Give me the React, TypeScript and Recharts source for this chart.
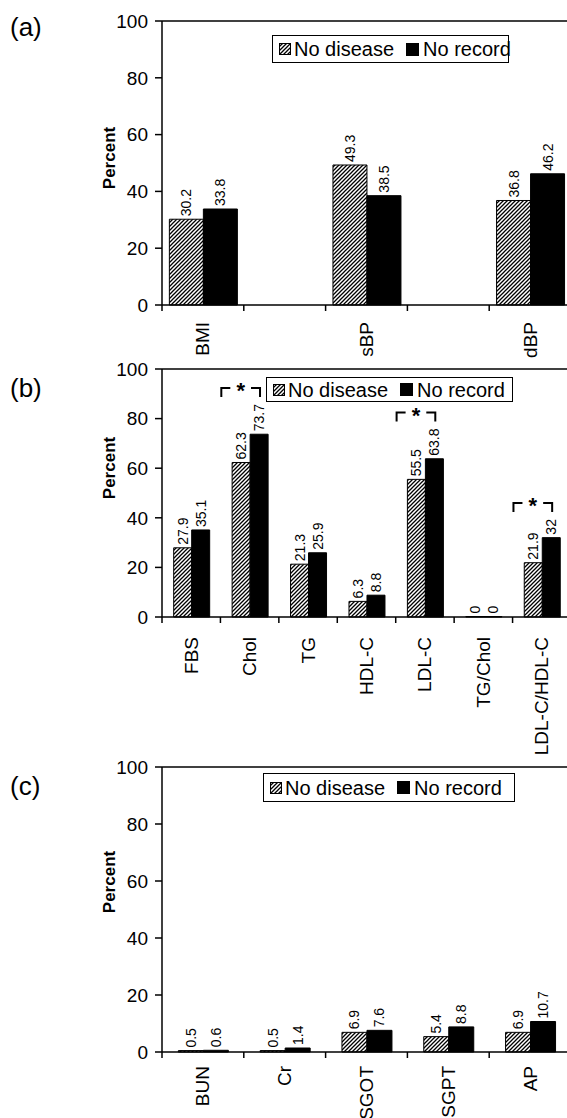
import React from 'react';
import { BarChart, Bar, XAxis, YAxis, LabelList, ReferenceLine, Legend } from 'recharts';

const FONT = '"Liberation Sans", Arial, Helvetica, sans-serif';

// ---------- data ----------
const seriesNames = ['No disease', 'No record'];
const yTicks = [0, 20, 40, 60, 80, 100];

const catsA = ['BMI', ' ', 'sBP', '  ', 'dBP'];
const noDiseaseA = [30.2, null, 49.3, null, 36.8];
const noRecordA = [33.8, null, 38.5, null, 46.2];

const catsB = ['FBS', 'Chol', 'TG', 'HDL-C', 'LDL-C', 'TG/Chol', 'LDL-C/HDL-C'];
const noDiseaseB = [27.9, 62.3, 21.3, 6.3, 55.5, 0, 21.9];
const noRecordB = [35.1, 73.7, 25.9, 8.8, 63.8, 0, 32];
const sigB = [false, true, false, false, true, false, true];

const catsC = ['BUN', 'Cr', 'SGOT', 'SGPT', 'AP'];
const noDiseaseC = [0.5, 0.5, 6.9, 5.4, 6.9];
const noRecordC = [0.6, 1.4, 7.6, 8.8, 10.7];

// ---------- layout ----------
const CHART_W = 585;
const MARGIN_L = 102;
const YAXIS_W = 60;
const MARGIN_R = 14;
const PLOT_W = CHART_W - MARGIN_L - YAXIS_W - MARGIN_R;

const HatchDef = ({ id }: { id: string }) => (
  <pattern id={id} patternUnits="userSpaceOnUse" width="4" height="4">
    <rect width="4" height="4" fill="#fff" />
    <path d="M-1,1 l2,-2 M0,4 l4,-4 M3,5 l2,-2" stroke="#000" strokeWidth="1.3" />
  </pattern>
);

const XTick = (props: any) => {
  const { x, y, payload, band, offset } = props;
  const label = String(payload.value).trim();
  return (
    <g>
      <line x1={x - band / 2} x2={x - band / 2} y1={y} y2={y + 6} stroke="#000" strokeWidth={1.5} />
      {label && (
        <text
          transform={`translate(${x},${y + offset}) rotate(-90)`}
          textAnchor="end"
          dominantBaseline="central"
          fontFamily={FONT}
          fontSize={19}
          fill="#000"
        >
          {label}
        </text>
      )}
    </g>
  );
};

const estW = (s: string, fs: number) => {
  let w = 0;
  for (const ch of s) w += ch === '.' ? 0.278 : 0.556;
  return w * fs;
};

// label value is "<number>" or "<number>|*" when the pair is significant
const ValueLabel = (props: any) => {
  const { value } = props;
  if (value === null || value === undefined || value === '') return null;
  const raw = String(value);
  const parts = raw.split('|');
  const txt = parts[0];
  if (txt === '' || txt === 'null') return null;
  const isSig = parts[1] === '*';
  const vb = props.viewBox || props;
  const x = Number(vb.x);
  const y = Number(vb.y);
  const w = Number(vb.width);
  const h = Number(vb.height);
  const top = h >= 0 ? y : y + h;
  const cx = x + w / 2;
  const fs = 14;
  const ly = top - 3;
  const out: any[] = [
    <text
      key="t"
      transform={`translate(${cx},${ly}) rotate(-90)`}
      textAnchor="start"
      dominantBaseline="central"
      fontFamily={FONT}
      fontSize={fs}
      fill="#000"
    >
      {txt}
    </text>,
  ];
  if (isSig) {
    const hy = ly - estW(txt, fs) - 16;
    const l = x - 1.6 * w;
    const r = x + 0.55 * w;
    const segW = 9;
    out.push(
      <g key="b" stroke="#000" strokeWidth={2} fill="none">
        <polyline points={`${l},${hy + 9} ${l},${hy} ${l + segW},${hy}`} />
        <polyline points={`${r - segW},${hy} ${r},${hy} ${r},${hy + 9}`} />
      </g>,
      <text key="s" x={(l + r) / 2} y={hy + 10} textAnchor="middle" fontFamily={FONT} fontSize={22} fontWeight="bold" fill="#000">
        *
      </text>
    );
  }
  return <g>{out}</g>;
};

const LegendBox = (props: any) => {
  const { payload, fs, h, pid } = props;
  const items = payload || [];
  return (
    <div
      style={{
        border: '1px solid #000',
        background: '#fff',
        height: h,
        boxSizing: 'border-box',
        display: 'flex',
        alignItems: 'center',
        fontFamily: FONT,
        fontSize: fs,
        whiteSpace: 'nowrap',
        paddingLeft: 6,
        lineHeight: 1,
        color: '#000',
      }}
    >
      {items.map((it: any, i: number) => (
        <span key={i} style={{ display: 'flex', alignItems: 'center', marginLeft: i === 0 ? 0 : 12 }}>
          {i === 0 ? (
            <svg width={12} height={12} style={{ display: 'block' }}>
              <defs>
                <HatchDef id={`leg-${pid}`} />
              </defs>
              <rect x={0.5} y={0.5} width={11} height={11} fill={`url(#leg-${pid})`} stroke="#000" strokeWidth={1} />
            </svg>
          ) : (
            <svg width={13} height={13} style={{ display: 'block' }}>
              <rect x={0} y={0} width={13} height={13} fill="#000" />
            </svg>
          )}
          <span style={{ marginLeft: i === 0 ? 3 : 4 }}>{it.value}</span>
        </span>
      ))}
    </div>
  );
};

type PanelProps = {
  id: string;
  top: number;
  height: number;
  marginTop: number;
  plotH: number;
  cats: string[];
  a: (number | null)[];
  b: (number | null)[];
  sig?: boolean[];
  gap: string;
  legend: { x: number; y: number; w: number; h: number };
  labelOffset: number;
};

const Panel = (p: PanelProps) => {
  const data = p.cats.map((c, i) => ({
    name: c,
    nd: p.a[i],
    nr: p.b[i],
    ndLabel: p.a[i] === null ? '' : String(p.a[i]),
    nrLabel: p.b[i] === null ? '' : String(p.b[i]) + (p.sig && p.sig[i] ? '|*' : ''),
  }));
  const band = PLOT_W / p.cats.length;
  const hid = `hatch-${p.id}`;
  const axisH = p.height - p.marginTop - p.plotH;
  return (
    <div style={{ position: 'absolute', left: 0, top: p.top, width: CHART_W, height: p.height }}>
      <BarChart
        width={CHART_W}
        height={p.height}
        data={data}
        margin={{ top: p.marginTop, right: MARGIN_R, bottom: 0, left: MARGIN_L }}
        barCategoryGap={p.gap}
        barGap={0}
      >
        <defs>
          <HatchDef id={hid} />
        </defs>
        <XAxis
          dataKey="name"
          height={axisH}
          interval={0}
          axisLine={{ stroke: '#000', strokeWidth: 1.5 }}
          tickLine={false}
          tickSize={0}
          tickMargin={0}
          tick={<XTick band={band} offset={p.labelOffset} />}
        />
        <YAxis
          width={YAXIS_W}
          domain={[0, 100]}
          ticks={yTicks}
          interval={0}
          axisLine={{ stroke: '#000', strokeWidth: 1.5 }}
          tickLine={{ stroke: '#000', strokeWidth: 1.5 }}
          tickSize={7}
          tickMargin={7}
          tick={{ fontFamily: FONT, fontSize: 19, fill: '#000' }}
        />
        <ReferenceLine y={100} stroke="#000" strokeWidth={1.5} />
        <Bar dataKey="nd" name={seriesNames[0]} fill={`url(#${hid})`} stroke="#000" strokeWidth={1} minPointSize={0.5} isAnimationActive={false}>
          <LabelList dataKey="ndLabel" content={<ValueLabel />} />
        </Bar>
        <Bar dataKey="nr" name={seriesNames[1]} fill="#000" stroke="#000" strokeWidth={1} minPointSize={0.5} isAnimationActive={false}>
          <LabelList dataKey="nrLabel" content={<ValueLabel />} />
        </Bar>
        <Legend
          layout="horizontal"
          verticalAlign="middle"
          align="center"
          width={p.legend.w}
          height={p.legend.h}
          wrapperStyle={{ left: p.legend.x, top: p.legend.y, right: 'auto', bottom: 'auto' }}
          content={<LegendBox fs={20} h={p.legend.h} pid={p.id} />}
        />
      </BarChart>
    </div>
  );
};

const tags = ['(a)', '(b)', '(c)'];

export default function App() {
  return (
    <div style={{ position: 'fixed', left: 0, top: 0, width: 567, height: 1118, overflow: 'hidden', background: '#fff' }}>
      <Panel
        id="a"
        top={0}
        height={380}
        marginTop={21}
        plotH={284}
        cats={catsA}
        a={noDiseaseA}
        b={noRecordA}
        gap="9%"
        legend={{ x: 272, y: 35, w: 237, h: 28 }}
        labelOffset={17}
      />
      <Panel
        id="b"
        top={340}
        height={440}
        marginTop={29}
        plotH={248}
        cats={catsB}
        a={noDiseaseB}
        b={noRecordB}
        sig={sigB}
        gap="20%"
        legend={{ x: 266, y: 37, w: 247, h: 25 }}
        labelOffset={20}
      />
      <Panel
        id="c"
        top={740}
        height={378}
        marginTop={27}
        plotH={285}
        cats={catsC}
        a={noDiseaseC}
        b={noRecordC}
        gap="20%"
        legend={{ x: 263, y: 33, w: 252, h: 29 }}
        labelOffset={14}
      />
      <svg width={567} height={1118} style={{ position: 'absolute', left: 0, top: 0, pointerEvents: 'none' }}>
        <text x={10} y={36} fontFamily={FONT} fontSize={26} fill="#000">{tags[0]}</text>
        <text x={10} y={397} fontFamily={FONT} fontSize={26} fill="#000">{tags[1]}</text>
        <text x={10} y={795} fontFamily={FONT} fontSize={26} fill="#000">{tags[2]}</text>
        {[158, 468, 882].map((cy, i) => (
          <text
            key={i}
            transform={`translate(109,${cy}) rotate(-90)`}
            textAnchor="middle"
            dominantBaseline="central"
            fontFamily={FONT}
            fontSize={17}
            fontWeight="bold"
            fill="#000"
          >
            Percent
          </text>
        ))}
      </svg>
    </div>
  );
}
